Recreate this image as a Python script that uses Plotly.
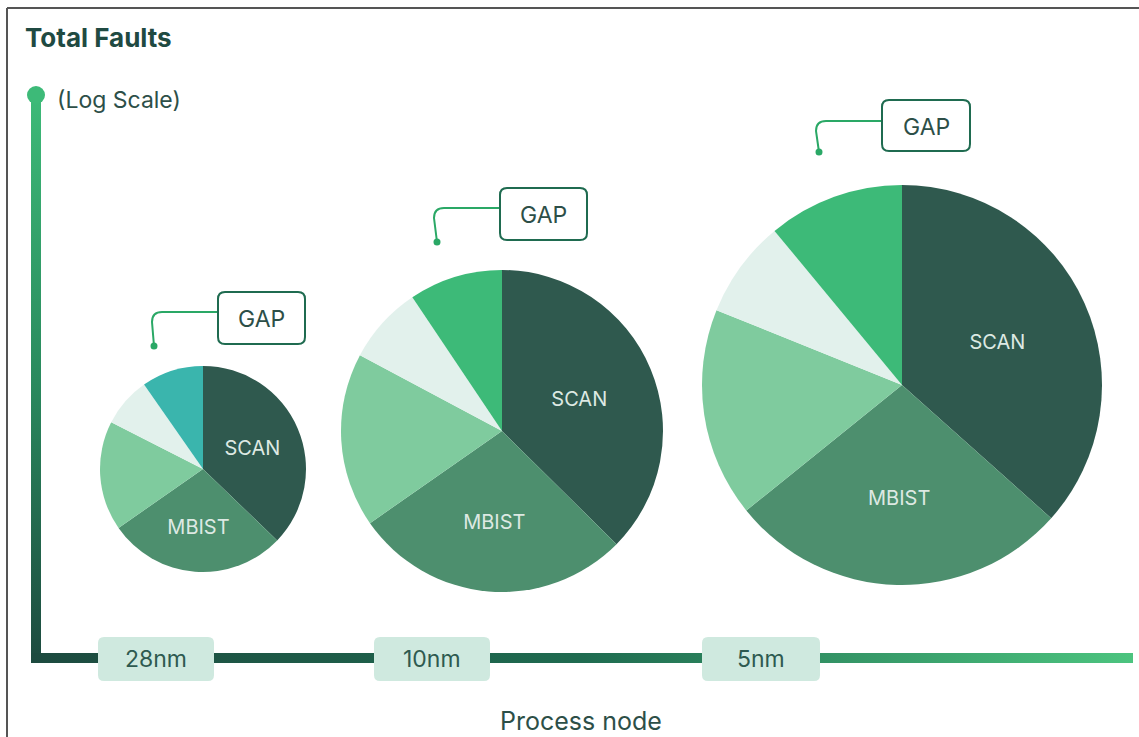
import plotly.graph_objects as go

# ---------------- data ----------------
nodes = ["28nm", "10nm", "5nm"]
slice_names = ["SCAN", "MBIST", "Other A", "Other B", "GAP"]
share_28nm = [37.2, 28.1, 17.2, 7.8, 9.7]
share_10nm = [37.4, 27.9, 17.5, 7.8, 9.4]
share_5nm = [36.6, 27.6, 16.9, 7.9, 11.0]
slice_text = ["SCAN", "MBIST", "", "", ""]
callout_label = "GAP"
title_text = "Total Faults"
y_axis_label = "(Log Scale)"
x_axis_label = "Process node"

# ---------------- layout / style ----------------
W, H = 1139, 737
pie_geom = [(203, 469, 103), (502, 431, 161), (902, 385, 200)]  # cx, cy, r (px)
colors_main = ["#2f594e", "#4d8f6e", "#7fcb9e", "#e2f1ec", "#3dba78"]
colors_28 = ["#2f594e", "#4d8f6e", "#7fcb9e", "#e2f1ec", "#3ab5ad"]
label_boxes = [(98, 214), (374, 490), (702, 820)]
gap_boxes = [(218, 292, 305, 344), (500, 188, 587, 240), (882, 100, 970, 151)]
dark = "#1d4a3f"
bright = "#3dba78"
text_col = "#2d4f48"
FONT = "Inter"

fig = go.Figure()

# axis bars with gradients (decorations)
fig.add_trace(go.Scatter(
    x=[31, 41, 41, 31, 31], y=[95, 95, 663, 663, 95], mode="lines",
    line=dict(width=0), fill="toself", hoverinfo="skip", showlegend=False,
    fillgradient=dict(type="vertical", colorscale=[[0, bright], [0.5, "#2a8a5e"], [1, dark]],
                      start=95, stop=663)))
fig.add_trace(go.Scatter(
    x=[31, 1133, 1133, 31, 31], y=[653, 653, 663, 663, 653], mode="lines",
    line=dict(width=0), fill="toself", hoverinfo="skip", showlegend=False,
    fillgradient=dict(type="horizontal", colorscale=[[0, dark], [0.5, "#1f6b50"], [1, "#4cc47f"]],
                      start=31, stop=1133)))

shares = [share_28nm, share_10nm, share_5nm]
for i, (vals, (cx, cy, r)) in enumerate(zip(shares, pie_geom)):
    fig.add_trace(go.Pie(
        labels=slice_names, values=vals, text=slice_text, texttemplate="%{text}",
        textposition="inside", insidetextorientation="horizontal",
        textfont=dict(family=FONT, size=20, color="#dde9e3"),
        marker=dict(colors=colors_28 if i == 0 else colors_main, line=dict(width=0)),
        sort=False, direction="clockwise", rotation=0, showlegend=False,
        hoverinfo="skip",
        domain=dict(x=[(cx - r) / W, (cx + r) / W], y=[1 - (cy + r) / H, 1 - (cy - r) / H]),
    ))


def rrect(x0, y0, x1, y1, rad):
    return (f"M {x0+rad},{y0} L {x1-rad},{y0} Q {x1},{y0} {x1},{y0+rad} "
            f"L {x1},{y1-rad} Q {x1},{y1} {x1-rad},{y1} L {x0+rad},{y1} "
            f"Q {x0},{y1} {x0},{y1-rad} L {x0},{y0+rad} Q {x0},{y0} {x0+rad},{y0} Z")


shapes = []
annotations = []

# frame
shapes.append(dict(type="line", x0=7, y0=8, x1=W, y1=8, line=dict(color="#555", width=2)))
shapes.append(dict(type="line", x0=7, y0=8, x1=7, y1=H, line=dict(color="#555", width=2)))
# top dot of y axis
shapes.append(dict(type="circle", x0=27, y0=86, x1=45, y1=104, fillcolor=bright, line=dict(width=0)))

# node label boxes
for name, (x0, x1) in zip(nodes, label_boxes):
    shapes.append(dict(type="path", path=rrect(x0, 637, x1, 681, 6), fillcolor="#cfe9df",
                       line=dict(width=0)))
    annotations.append(dict(x=(x0 + x1) / 2, y=659, text=name, showarrow=False,
                            font=dict(family=FONT, size=23, color="#2e5a50")))

# GAP callouts
conn = [
    (312, 162, 152, 154, 346),
    (208, 444, 434, 437, 242),
    (121, 826, 816, 819, 152),
]
for (x0, y0, x1, y1), (ly, hx, cxx, dx, dy) in zip(gap_boxes, conn):
    shapes.append(dict(type="path",
                       path=f"M {x0},{ly} L {hx},{ly} Q {cxx},{ly} {cxx},{ly+10} L {dx},{dy}",
                       line=dict(color="#2aa866", width=2)))
    shapes.append(dict(type="circle", x0=dx - 3.5, y0=dy - 3.5, x1=dx + 3.5, y1=dy + 3.5,
                       fillcolor="#2aa866", line=dict(width=0)))
    shapes.append(dict(type="path", path=rrect(x0, y0, x1, y1, 7), fillcolor="white",
                       line=dict(color="#1f6b50", width=2)))
    annotations.append(dict(x=(x0 + x1) / 2, y=(y0 + y1) / 2 + 1, text=callout_label,
                            showarrow=False, font=dict(family=FONT, size=23, color=text_col)))

annotations.append(dict(x=23, y=37, text=f"<b>{title_text}</b>", showarrow=False, xanchor="left",
                        font=dict(family=FONT, size=26, color="#1f4a42")))
annotations.append(dict(x=55, y=100, text=y_axis_label, showarrow=False, xanchor="left",
                        font=dict(family=FONT, size=23, color=text_col)))
annotations.append(dict(x=581, y=721, text=x_axis_label, showarrow=False,
                        font=dict(family=FONT, size=25, color=text_col)))

fig.update_layout(
    width=W, height=H, margin=dict(l=0, r=0, t=0, b=0),
    paper_bgcolor="white", plot_bgcolor="white",
    xaxis=dict(range=[0, W], visible=False, fixedrange=True),
    yaxis=dict(range=[H, 0], visible=False, fixedrange=True),
    shapes=shapes, annotations=annotations, showlegend=False,
)

fig.write_html("out.html")
